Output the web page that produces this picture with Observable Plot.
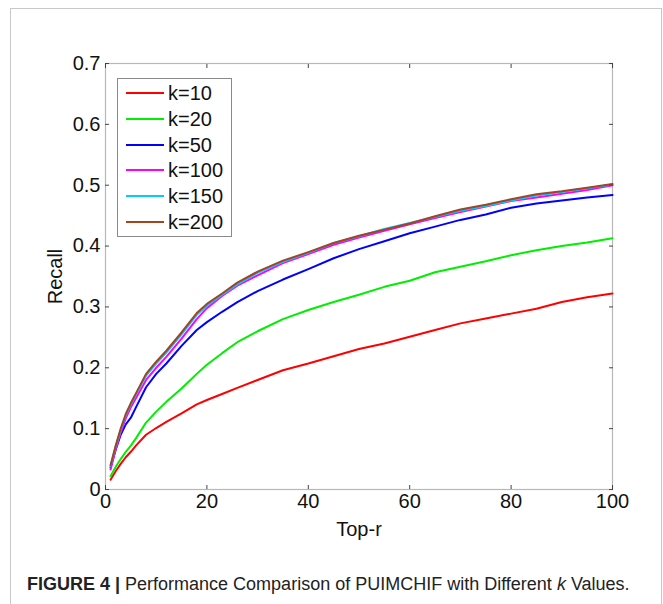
<!DOCTYPE html>
<html>
<head>
<meta charset="utf-8">
<script src="https://cdn.jsdelivr.net/npm/d3@7"></script>
<script src="https://cdn.jsdelivr.net/npm/@observablehq/plot@0.6"></script>
<style>
  html, body { margin: 0; padding: 0; background: #fff; width: 663px; height: 604px; overflow: hidden; }
  #wrap { position: relative; width: 663px; height: 604px; }
  #border { position: absolute; left: 10px; top: 8px; width: 652px; height: 640px; border: 1.5px solid #c8c8c8; box-sizing: border-box; }
  #chart { position: absolute; left: 0; top: 0; }
  #legend { position: absolute; left: 117px; top: 78px; width: 115px; height: 159px; border: 1px solid #8a8a8a; box-sizing: border-box; background: #fff;
            font-family: "Liberation Sans", Arial, sans-serif; font-size: 20px; }
  .row { position: absolute; left: 0; height: 24px; width: 113px; }
  .swatch { position: absolute; left: 8px; width: 38px; height: 2px; }
  .lab { position: absolute; left: 50px; line-height: 24px; top: 0; color: #111; }
  #caption { position: absolute; left: 27px; top: 574px; font-family: "Liberation Sans", Arial, sans-serif; font-size: 18px; color: #222; white-space: nowrap; }
  #caption b { font-weight: bold; }
</style>
</head>
<body>
<div id="wrap">
  <div id="border"></div>
  <div id="chart"></div>
  <div id="legend"></div>
  <div id="caption"><b>FIGURE 4 |</b> Performance Comparison of PUIMCHIF with Different <i>k</i> Values.</div>
</div>
<script>
const topR = [1,2,3,4,5,6,8,10,12,15,18,20,23,26,30,35,40,45,50,55,60,65,70,75,80,85,90,95,100];

const recallK10  = [0.016,0.030,0.042,0.053,0.062,0.072,0.090,0.101,0.111,0.125,0.140,0.147,0.157,0.167,0.180,0.196,0.207,0.219,0.231,0.240,0.251,0.262,0.273,0.281,0.289,0.297,0.308,0.316,0.322];
const recallK20  = [0.022,0.037,0.050,0.062,0.072,0.084,0.110,0.128,0.144,0.166,0.190,0.205,0.224,0.242,0.260,0.280,0.295,0.308,0.320,0.333,0.343,0.357,0.366,0.375,0.385,0.393,0.400,0.406,0.413];
const recallK50  = [0.036,0.065,0.090,0.107,0.118,0.135,0.168,0.190,0.207,0.236,0.262,0.275,0.292,0.308,0.326,0.345,0.362,0.380,0.395,0.408,0.421,0.432,0.443,0.452,0.463,0.470,0.475,0.480,0.484];
const recallK100 = [0.033,0.066,0.094,0.117,0.135,0.150,0.180,0.200,0.218,0.248,0.280,0.298,0.318,0.335,0.352,0.372,0.387,0.402,0.414,0.425,0.436,0.446,0.456,0.465,0.474,0.480,0.486,0.492,0.500];
const recallK150 = [0.039,0.070,0.098,0.122,0.140,0.156,0.187,0.207,0.225,0.255,0.287,0.302,0.320,0.337,0.356,0.374,0.389,0.405,0.416,0.428,0.438,0.448,0.458,0.466,0.475,0.483,0.489,0.495,0.501];
const recallK200 = [0.040,0.072,0.100,0.124,0.142,0.158,0.190,0.210,0.228,0.258,0.290,0.305,0.322,0.340,0.358,0.376,0.390,0.405,0.417,0.427,0.437,0.449,0.460,0.468,0.477,0.485,0.490,0.496,0.502];

const seriesLabels = ["k=10","k=20","k=50","k=100","k=150","k=200"];
const seriesColors = ["#ff0000","#00ee00","#0000ff","#ff00ff","#00ccff","#a0461e"];
const seriesValues = [recallK10, recallK20, recallK50, recallK100, recallK150, recallK200];

const xTicks = [0,20,40,60,80,100];
const yTicks = [0,0.1,0.2,0.3,0.4,0.5,0.6,0.7];

const rows = seriesLabels.flatMap((k, i) => topR.map((x, j) => ({k, x, y: seriesValues[i][j]})));
const fmt = d => d === 0 ? "0" : d.toFixed(1);
const blank = () => "";

const chart = Plot.plot({
  width: 663,
  height: 545,
  marginLeft: 105,
  marginRight: 51,
  marginTop: 63,
  marginBottom: 56,
  x: {domain: [0, 100]},
  y: {domain: [0, 0.7]},
  color: {domain: seriesLabels, range: seriesColors},
  style: {fontFamily: "'Liberation Sans', Arial, sans-serif", fontSize: "20px", background: "transparent", color: "#111", overflow: "visible"},
  marks: [
    Plot.frame({stroke: "#b8b8b8", strokeWidth: 1.2}),
    Plot.line(rows, {x: "x", y: "y", z: "k", stroke: "k", strokeWidth: 2}),
    Plot.axisX(xTicks, {anchor: "bottom", tickSize: -4, tickFormat: blank, label: null, stroke: "#444"}),
    Plot.axisX(xTicks, {anchor: "top", tickSize: -4, tickFormat: blank, label: null, stroke: "#444"}),
    Plot.axisY(yTicks, {anchor: "left", tickSize: -4, tickFormat: blank, label: null, stroke: "#444"}),
    Plot.axisY(yTicks, {anchor: "right", tickSize: -4, tickFormat: blank, label: null, stroke: "#444"}),
    Plot.axisX(xTicks, {anchor: "bottom", tickSize: 0, tickPadding: 4, tickFormat: d => String(d), label: "Top-r", labelAnchor: "center", labelArrow: "none", labelOffset: 46}),
    Plot.axisY(yTicks, {anchor: "left", tickSize: 0, tickPadding: 5, tickFormat: fmt, label: "Recall", labelAnchor: "center", labelArrow: "none", labelOffset: 58})
  ]
});
document.getElementById("chart").appendChild(chart);

const legend = document.getElementById("legend");
seriesLabels.forEach((lab, i) => {
  const row = document.createElement("div");
  row.className = "row";
  row.style.top = (2 + i * 25.8) + "px";
  const sw = document.createElement("div");
  sw.className = "swatch";
  sw.style.top = "11px";
  sw.style.background = seriesColors[i];
  const t = document.createElement("div");
  t.className = "lab";
  t.textContent = lab;
  row.appendChild(sw);
  row.appendChild(t);
  legend.appendChild(row);
});
</script>
</body>
</html>
